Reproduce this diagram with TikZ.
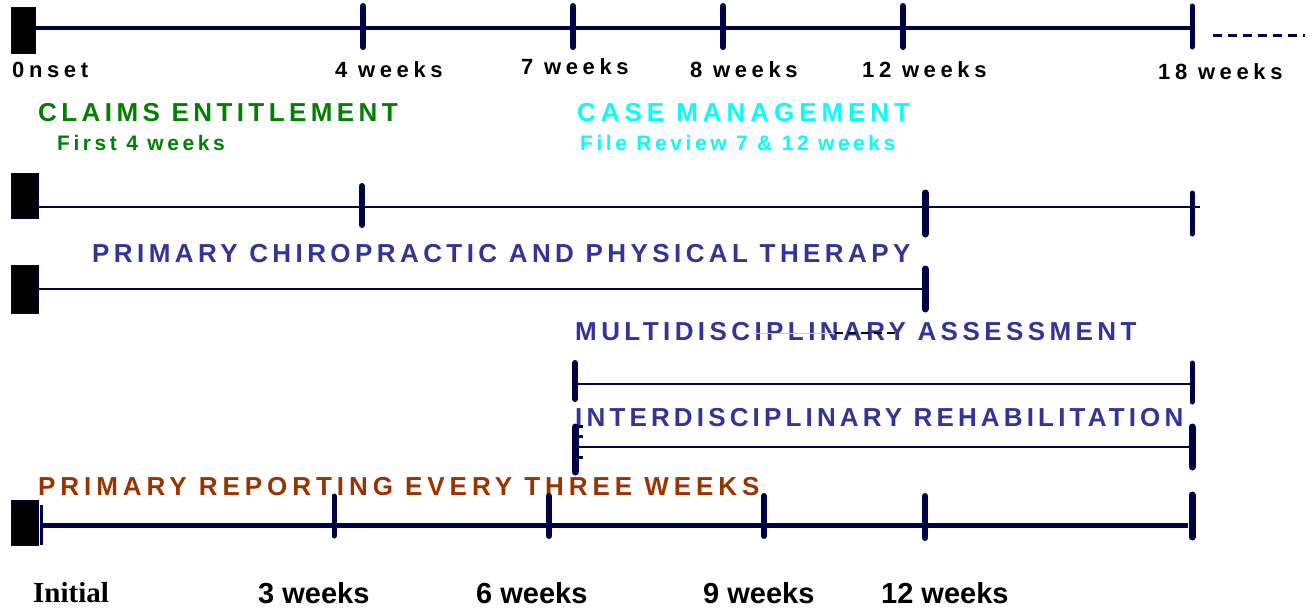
\documentclass[tikz,border=0pt]{standalone}
\usepackage{fontspec}
\setmainfont{Liberation Sans}
\newfontfamily\weekfont[LetterSpace=21]{Liberation Sans}
\newfontfamily\headfont[LetterSpace=17]{Liberation Sans}
\newfontfamily\headwide[LetterSpace=19]{Liberation Sans}
\newfontfamily\headtight[LetterSpace=16]{Liberation Sans}
\newfontfamily\subfont[LetterSpace=17]{Liberation Sans}
\newfontfamily\initfont{Liberation Serif}

\definecolor{navy}{RGB}{0,0,70}
\definecolor{claimgreen}{RGB}{0,128,0}
\definecolor{casecyan}{RGB}{0,255,255}
\definecolor{phaseblue}{RGB}{51,51,153}
\definecolor{reportbrown}{RGB}{153,51,0}

\tikzset{
  weeklbl/.style={anchor=west,inner sep=0pt,font=\weekfont\bfseries\fontsize{22}{22}\selectfont},
  headlbl/.style={anchor=west,inner sep=0pt,font=\headfont\bfseries\fontsize{26}{26}\selectfont},
  sublbl/.style={anchor=west,inner sep=0pt,font=\subfont\bfseries\fontsize{21}{21}\selectfont},
  footlbl/.style={anchor=west,inner sep=0pt,font=\bfseries\fontsize{29}{29}\selectfont},
  startblock/.style={fill=black,draw=navy,line width=1pt},
  tick/.style={draw=navy,line width=6pt,line cap=round},
  bar/.style={draw=navy,line width=2.5pt}
}

\begin{document}
\begin{tikzpicture}[x=1pt,y=-1pt]
  \useasboundingbox (0,0) rectangle (1312,611);

  % week labels of the top scale
  \node[weeklbl] (onset) at (12,70) {0nset};
  \node[weeklbl] (w4) at (335,70) {4 weeks};
  \node[weeklbl] (w7) at (521,67) {7 weeks};
  \node[weeklbl] (w8) at (690,70) {8 weeks};
  \node[weeklbl] (w12) at (862,70) {12 weeks};
  \node[weeklbl] (w18) at (1158,72) {18 weeks};

  % phase titles
  \node[headlbl,text=claimgreen] (claims) at (38,113) {CLAIMS ENTITLEMENT};
  \node[sublbl,text=claimgreen] (claimsub) at (57,143) {First 4 weeks};
  \node[headlbl,font=\headwide\bfseries\fontsize{26}{26}\selectfont,text=casecyan] (casemgmt) at (577,113) {CASE MANAGEMENT};
  \node[sublbl,text=casecyan] (casesub) at (580,143) {File Review 7 \& 12 weeks};
  \node[headlbl,text=phaseblue] (chiro) at (92,254) {PRIMARY CHIROPRACTIC AND PHYSICAL THERAPY};
  \node[headlbl,text=phaseblue] (multi) at (575,332) {MULTIDISCIPLINARY ASSESSMENT};
  \node[headlbl,font=\headtight\bfseries\fontsize{26}{26}\selectfont,text=phaseblue] (inter) at (575,418) {INTERDISCIPLINARY REHABILITATION};
  \node[headlbl,font=\headwide\bfseries\fontsize{26}{26}\selectfont,text=reportbrown] (report) at (38,487) {PRIMARY REPORTING EVERY THREE WEEKS};

  % reporting labels along the bottom
  \node[anchor=west,inner sep=0pt,font=\initfont\bfseries\fontsize{29}{29}\selectfont] (initial) at (33,593) {Initial};
  \node[footlbl] (r3) at (258,593) {3 weeks};
  \node[footlbl] (r6) at (476,593) {6 weeks};
  \node[footlbl] (r9) at (703,593) {9 weeks};
  \node[footlbl] (r12) at (881,593) {12 weeks};

  % stray marks across the assessment title
  \draw[gray!40,line width=1pt] (753,333) -- (835,333);
  \draw[black,line width=2pt,dash pattern=on 8pt off 5pt] (835,333) -- (898,333);

  % top scale
  \draw[navy,line width=4.5pt] (35,28) -- (1190,28);
  \draw[startblock] (11,7) rectangle (35,53);
  \draw[tick] (363,6) -- (363,47);
  \draw[tick] (573,6) -- (573,47);
  \draw[tick] (723,6) -- (723,47);
  \draw[tick] (903,6) -- (903,47);
  \draw[tick,line width=5pt] (1192,6) -- (1192,47);
  \draw[navy,line width=3pt,dash pattern=on 9pt off 6pt] (1213,35) -- (1305,35);

  % claims and chiropractic line
  \draw[bar] (38,207) -- (1200,207);
  \draw[startblock] (11,173) rectangle (38,218);
  \draw[tick] (362,186) -- (362,225);
  \draw[tick,line width=7pt] (925,193) -- (925,234);
  \draw[tick,line width=5pt] (1192,193) -- (1192,234);

  % primary care line
  \draw[bar] (38,289) -- (925,289);
  \draw[startblock] (11,265) rectangle (38,313);
  \draw[tick,line width=7pt] (925,269) -- (925,309);

  % assessment line
  \draw[bar] (575,384) -- (1192,384);
  \draw[tick] (575,363) -- (575,399);
  \draw[tick,line width=5pt] (1192,363) -- (1192,402);

  % rehabilitation line
  \draw[bar] (575,447) -- (1192,447);
  \draw[tick,line width=7pt] (575,427) -- (575,472);
  \draw[navy,line width=3pt] (575,426) -- (583,426);
  \draw[navy,line width=3pt] (575,436) -- (583,436);
  \draw[navy,line width=3pt] (575,457) -- (583,457);
  \draw[tick,line width=7pt] (1192,427) -- (1192,467);

  % reporting line
  \draw[navy,line width=5pt] (40,525) -- (1188,525);
  \draw[startblock] (11,500) rectangle (38,545);
  \draw[navy,line width=3pt] (41.5,505) -- (41.5,545);
  \draw[tick,line width=5pt] (334,496) -- (334,536);
  \draw[tick] (549,496) -- (549,536);
  \draw[tick] (764,496) -- (764,536);
  \draw[tick] (925,496) -- (925,538);
  \draw[tick,line width=7pt] (1192,495) -- (1192,537);
\end{tikzpicture}
\end{document}
